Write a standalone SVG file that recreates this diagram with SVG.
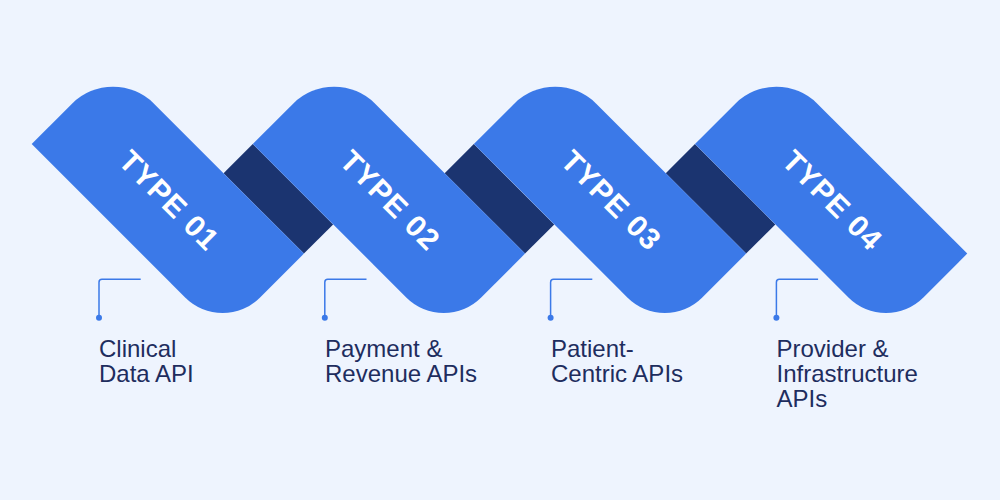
<svg xmlns="http://www.w3.org/2000/svg" width="1000" height="500" viewBox="0 0 1000 500">
  <defs>
    <style>
      .seg { fill: #3b79e8; }
      .fold { fill: #1b3470; }
      .type { font-family: "Liberation Sans", Arial, sans-serif; font-weight: 700; font-size: 30px; fill: #ffffff; letter-spacing: 1px; }
      .label { font-family: "Liberation Sans", Arial, sans-serif; font-size: 24px; fill: #1e2d5e; }
      .conn { fill: none; stroke: #3b79e8; stroke-width: 1.5; }
      .dot { fill: #3b79e8; }
    </style>
    <path id="band" d="M0 0 V-57 A58 58 0 0 1 58 -115 H270 V-53 A53 53 0 0 1 217 0 Z"/>
  </defs>
  <rect width="1000" height="500" fill="#eef4fe"/>

  <g id="folds">
    <rect class="fold" transform="translate(31.7 144) rotate(45)" x="156.3" y="-156.3" width="113.7" height="41.3"/>
    <rect class="fold" transform="translate(252.8 144) rotate(45)" x="156.3" y="-156.3" width="113.7" height="41.3"/>
    <rect class="fold" transform="translate(473.9 144) rotate(45)" x="156.3" y="-156.3" width="113.7" height="41.3"/>
  </g>

  <g id="type01" transform="translate(31.7 144) rotate(45)">
    <use href="#band" class="seg"/>
    <text class="type" x="137" y="-47" text-anchor="middle">TYPE 01</text>
  </g>
  <g id="type02" transform="translate(252.8 144) rotate(45)">
    <use href="#band" class="seg"/>
    <text class="type" x="137" y="-47" text-anchor="middle">TYPE 02</text>
  </g>
  <g id="type03" transform="translate(473.9 144) rotate(45)">
    <use href="#band" class="seg"/>
    <text class="type" x="137" y="-47" text-anchor="middle">TYPE 03</text>
  </g>
  <g id="type04" transform="translate(695 144) rotate(45)">
    <use href="#band" class="seg"/>
    <text class="type" x="137" y="-47" text-anchor="middle">TYPE 04</text>
  </g>

  <g id="connectors">
    <path class="conn" d="M99 317.7 V282.3 Q99 279.3 102 279.3 H140.7"/>
    <circle class="dot" cx="99" cy="317.7" r="3"/>
    <path class="conn" d="M324.8 317.7 V282.3 Q324.8 279.3 327.8 279.3 H366.5"/>
    <circle class="dot" cx="324.8" cy="317.7" r="3"/>
    <path class="conn" d="M550.6 317.7 V282.3 Q550.6 279.3 553.6 279.3 H592.3"/>
    <circle class="dot" cx="550.6" cy="317.7" r="3"/>
    <path class="conn" d="M776.4 317.7 V282.3 Q776.4 279.3 779.4 279.3 H818.1"/>
    <circle class="dot" cx="776.4" cy="317.7" r="3"/>
  </g>

  <g id="label01">
    <text class="label" x="99" y="357.3">Clinical</text>
    <text class="label" x="99" y="382.3">Data API</text>
  </g>
  <g id="label02">
    <text class="label" x="325" y="357.3">Payment &amp;</text>
    <text class="label" x="325" y="382.3">Revenue APIs</text>
  </g>
  <g id="label03">
    <text class="label" x="551" y="357.3">Patient-</text>
    <text class="label" x="551" y="382.3">Centric APIs</text>
  </g>
  <g id="label04">
    <text class="label" x="776.5" y="357.3">Provider &amp;</text>
    <text class="label" x="776.5" y="382.3">Infrastructure</text>
    <text class="label" x="776.5" y="407">APIs</text>
  </g>
</svg>
